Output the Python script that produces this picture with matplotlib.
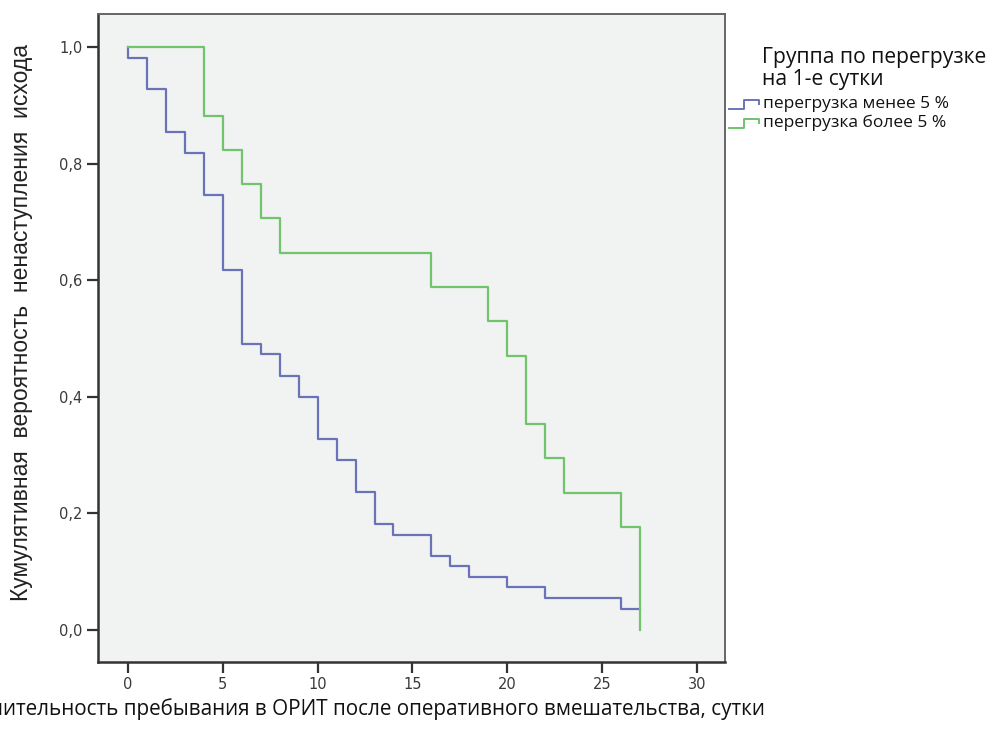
import numpy as np
import matplotlib.pyplot as plt
from matplotlib.lines import Line2D

# Kaplan-Meier steps (time in days, survival)
t_low = [0, 0, 1, 2, 3, 4, 5, 6, 7, 8, 9, 10, 11, 12, 13, 14, 16, 17, 18, 20, 22, 26, 27]
s_low = [1.0, 54/55, 51/55, 47/55, 45/55, 41/55, 34/55, 27/55, 26/55, 24/55, 22/55, 18/55,
         16/55, 13/55, 10/55, 9/55, 7/55, 6/55, 5/55, 4/55, 3/55, 2/55, 2/55]
t_high = [0, 4, 5, 6, 7, 8, 16, 19, 20, 21, 22, 23, 26, 27]
s_high = [1.0, 15/17, 14/17, 13/17, 12/17, 11/17, 10/17, 9/17, 8/17, 6/17, 5/17, 4/17, 3/17, 0.0]

names = ['перегрузка менее 5 %', 'перегрузка более 5 %']
colors = ['#6b73b8', '#6fc46c']
legend_title = 'Группа по перегрузке\nна 1-е сутки'
xlabel = 'Длительность пребывания в ОРИТ после оперативного вмешательства, сутки'
ylabel = 'Кумулятивная  вероятность  ненаступления  исхода'
xticks = [0, 5, 10, 15, 20, 25, 30]
yticks = [0.0, 0.2, 0.4, 0.6, 0.8, 1.0]

fig = plt.figure(figsize=(10, 7.29), dpi=100)
ax = fig.add_axes([0.098, 0.092, 0.627, 0.889])
ax.set_facecolor('#f1f2f2')

ax.step(t_low, s_low, where='post', color=colors[0], lw=1.6)
ax.step(t_high, s_high, where='post', color=colors[1], lw=1.6)

ax.set_xlim(-1.58, 31.48)
ax.set_ylim(-0.055, 1.057)
ax.set_xticks(xticks)
ax.set_yticks(yticks)
ax.set_xticklabels([str(v) for v in xticks])
ax.set_yticklabels([f'{v:.1f}'.replace('.', ',') for v in yticks])

tick_font = ['DejaVu Sans Condensed', 'DejaVu Sans']
for lab in ax.get_xticklabels() + ax.get_yticklabels():
    lab.set_family(tick_font)
    lab.set_fontsize(10.5)
    lab.set_color('#3a3a3a')
ax.tick_params(axis='both', direction='out', length=8, width=1.6, color='#333333', pad=3)

for side in ['left', 'bottom']:
    ax.spines[side].set_color('#333333')
    ax.spines[side].set_linewidth(1.8)
for side in ['top', 'right']:
    ax.spines[side].set_color('#666666')
    ax.spines[side].set_linewidth(1.4)

fig.text(0.022, 0.558, ylabel, rotation=90, ha='center', va='center',
         fontsize=16.5, family='Liberation Sans', color='#222222')
# the left end of the axis title is cut by the figure edge, as in the original
fig.text(0.765, 0.028, xlabel, ha='right', va='center', fontsize=14.9,
         family='Open Sans', color='#111111')

# legend drawn by hand to get the step-shaped handles
fig.text(0.762, 0.906, legend_title, ha='left', va='center', fontsize=15.2,
         family='Open Sans', color='#111111', linespacing=1.08)
for i, (name, c) in enumerate(zip(names, colors)):
    yc = 1 - (104 + 19 * i) / 729
    hx = np.array([729, 744, 744, 759, 759]) / 1000
    hy = yc + np.array([-5, -5, 4, 4, 0]) / 729
    fig.add_artist(Line2D(hx, hy, color=c, lw=1.4))
    fig.text(0.763, yc, name, ha='left', va='center', fontsize=12.5,
             family='Open Sans', color='#111111')

fig.savefig('out.png', dpi=100)
